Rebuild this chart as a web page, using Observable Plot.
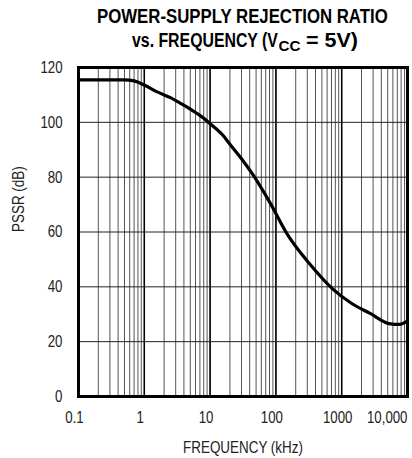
<!DOCTYPE html>
<html>
<head>
<meta charset="utf-8">
<script src="https://cdn.jsdelivr.net/npm/d3@7"></script>
<script src="https://cdn.jsdelivr.net/npm/@observablehq/plot@0.6"></script>
<style>
  html, body { margin: 0; padding: 0; background: #fff; }
  #wrap { width: 412px; height: 458px; position: relative; overflow: hidden; }
  #title { display: block; }
  .t { font-family: "Liberation Sans Narrow", "Liberation Sans", Arial, sans-serif; font-weight: bold; font-size: 21px; fill: #000; }
  .ts { font-family: "Liberation Sans Narrow", "Liberation Sans", Arial, sans-serif; font-weight: bold; font-size: 15px; fill: #000; }
</style>
</head>
<body>
<div id="wrap">
  <svg id="title" width="412" height="54">
    <text class="t" data-x="97" data-y="23" data-w="291">POWER-SUPPLY REJECTION RATIO</text>
    <text class="t" data-x="132" data-y="47" data-w="146">vs. FREQUENCY (V</text>
    <text class="ts" data-x="278.5" data-y="51" data-w="22">CC</text>
    <text class="t" data-x="306" data-y="47" data-w="52">= 5V)</text>
  </svg>
  <div id="chart"></div>
</div>
<script>
// Data
const freqKHz = [0.1, 0.3, 0.5, 0.7, 1, 1.6, 2.5, 3.5, 5, 8, 10, 16, 20, 30, 45, 80, 160, 220, 310, 750, 1350, 2700, 5500, 7500, 10000];
const psrrDb  = [115.5, 115.5, 115.5, 115.1, 113.6, 111, 109, 107, 104.8, 101.5, 99.5, 95, 92, 86.7, 80.8, 71, 58, 53.4, 49, 39, 34.3, 30.3, 26.5, 26.3, 27.6];

const xTicks = [0.1, 1, 10, 100, 1000, 10000];
const xTickLabels = ["0.1", "1", "10", "100", "1000", "10,000"];
const yTicks = [0, 20, 40, 60, 80, 100, 120];
const xLabel = "FREQUENCY (kHz)";
const yLabel = "PSSR (dB)";

const data = freqKHz.map((f, i) => ({f, v: psrrDb[i]}));
const font = '"Liberation Sans Narrow", "Liberation Sans", Arial, sans-serif';

const lastIdx = xTicks.length - 1;
const midTicks = xTicks.slice(0, lastIdx).map((d, i) => ({d, label: xTickLabels[i]}));
const endTick = [{d: xTicks[lastIdx], label: xTickLabels[lastIdx]}];

const chart = Plot.plot({
  width: 412,
  height: 404,
  marginLeft: 78,
  marginRight: 5,
  marginTop: 13,
  marginBottom: 62,
  style: {fontFamily: font, background: "white", color: "black"},
  x: {type: "log", domain: [0.1, 10000], axis: null},
  y: {domain: [0, 120], axis: null},
  marks: [
    Plot.gridX({ticks: 20, stroke: "#555", strokeOpacity: 1, strokeWidth: 1}),
    Plot.gridX({ticks: xTicks, stroke: "#000", strokeOpacity: 1, strokeWidth: 1.5}),
    Plot.gridY({ticks: yTicks, stroke: "#222", strokeOpacity: 1, strokeWidth: 1}),
    Plot.line(data, {x: "f", y: "v", curve: "monotone-x", stroke: "black", strokeWidth: 3.2}),
    Plot.frame({stroke: "black", strokeWidth: 3}),
    Plot.text(midTicks, {x: "d", text: "label", frameAnchor: "bottom", lineAnchor: "top", dy: 14, dx: -4, fontSize: 17, fill: "#222", className: "narrow78"}),
    Plot.text(endTick, {x: "d", text: "label", frameAnchor: "bottom", lineAnchor: "top", dy: 14, textAnchor: "end", fontSize: 17, fill: "#222", className: "narrow78"}),
    Plot.text(yTicks, {y: d => d, text: d => String(d), frameAnchor: "left", textAnchor: "end", dx: -16, fontSize: 17, fill: "#222", className: "narrow78"}),
    Plot.text([xLabel], {text: d => d, frameAnchor: "bottom", lineAnchor: "bottom", dy: 56, fontSize: 16, fill: "#222", className: "narrow84"}),
    Plot.text([yLabel], {text: d => d, frameAnchor: "left", lineAnchor: "bottom", rotate: -90, dx: -55, fontSize: 16, fill: "#222", className: "narrow84"})
  ]
});
document.getElementById("chart").appendChild(chart);

// Emulate a narrow typeface by scaling text horizontally about its anchor
function narrow(sel, k) {
  d3.select(chart).selectAll(sel + " text").each(function() {
    const t = this.getAttribute("transform") || "";
    this.setAttribute("transform", `${t} scale(${k},1)`);
  });
}
narrow(".narrow78", 0.78);
narrow(".narrow84", 0.84);

// Title: fit each piece to its measured width in the reference
d3.selectAll("#title text").each(function() {
  const L = this.getComputedTextLength();
  const w = +this.dataset.w;
  this.setAttribute("transform", `translate(${this.dataset.x},${this.dataset.y}) scale(${(w / L).toFixed(4)},1)`);
});
</script>
</body>
</html>
